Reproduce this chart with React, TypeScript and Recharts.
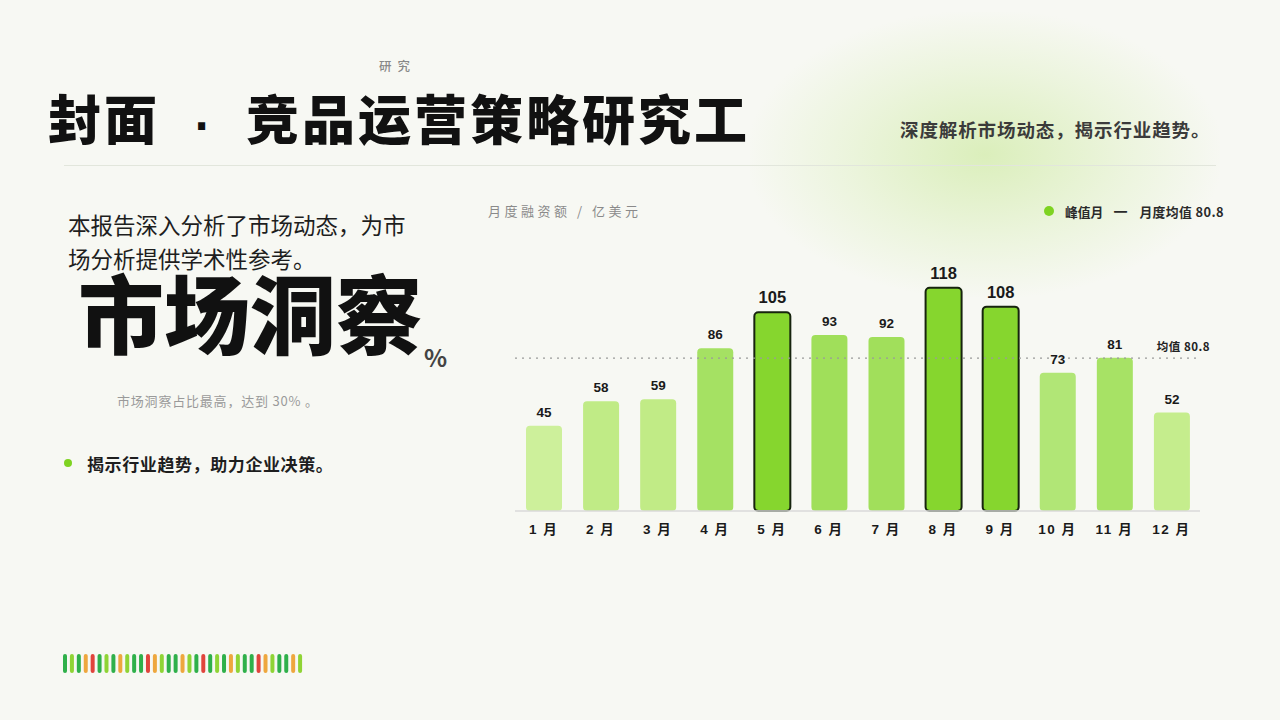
import React from "react";
import { BarChart, Bar, XAxis, YAxis, Cell, LabelList, ReferenceLine } from "recharts";

const MONTHS = ["1 月", "2 月", "3 月", "4 月", "5 月", "6 月", "7 月", "8 月", "9 月", "10 月", "11 月", "12 月"];
const FUNDING = [45, 58, 59, 86, 105, 93, 92, 118, 108, 73, 81, 52];
const PEAK_MONTHS = ["5 月", "8 月", "9 月"];
const BAR_COLORS = ["#cdf09b", "#c0eb86", "#c1eb86", "#a5e163", "#86d62e", "#a0df5a", "#a1df5b", "#86d62e", "#86d62e", "#b1e676", "#a7e265", "#c5ed8d"];
const MEAN = 80.8;

// decorative stripe strip, g = dark green, l = light green, o = orange, r = red
const STRIPES = "glgorglgolggrolggolgrglgolggrolggol".split("");
const STRIPE_COLORS: Record<string, string> = { g: "#2fb04a", l: "#8fd435", o: "#eea73e", r: "#e0443c" };

const chartData = MONTHS.map((m, i) => ({ month: m, value: FUNDING[i], color: BAR_COLORS[i], peak: PEAK_MONTHS.includes(m) }));
const stripeData = STRIPES.map((k, i) => ({ id: i, v: 1, color: STRIPE_COLORS[k] }));

const CJK = '"Noto Sans CJK SC", "Noto Sans", sans-serif';
const NUM = '"Liberation Sans", "Noto Sans CJK SC", sans-serif';

function ValueLabel(props: any) {
  const { x, y, width, value, index } = props;
  const peak = chartData[index].peak;
  return (
    <text x={x + width / 2} y={y - 9} textAnchor="middle" fontFamily={NUM} fontWeight={700} fontSize={peak ? 16.5 : 13.5} fill="#1a1a1a">
      {value}
    </text>
  );
}

function MeanLabel(props: any) {
  const { viewBox } = props;
  return (
    <text x={viewBox.x + viewBox.width + 10} y={viewBox.y - 7} textAnchor="end" fontFamily={CJK} fontWeight={700} fontSize={11.5} fill="#222" letterSpacing={0.5}>
      均值 80.8
    </text>
  );
}

export default function App() {
  return (
    <div style={{ position: "absolute", left: 0, top: 0, width: 1280, height: 720, overflow: "hidden", background: "#f7f8f3", fontFamily: CJK }}>
      <div style={{ position: "absolute", left: 750, top: 12, width: 470, height: 285, background: "radial-gradient(ellipse at center, rgba(200,232,150,0.6) 0%, rgba(215,238,180,0.35) 42%, rgba(247,248,243,0) 72%)" }} />

      <div style={{ position: "absolute", left: 379, top: 56, fontSize: 12.5, color: "#888", letterSpacing: 6, fontWeight: 500 }}>研究</div>
      <div style={{ position: "absolute", left: 48, top: 80, fontSize: 53, fontWeight: 900, color: "#111", letterSpacing: 3, whiteSpace: "nowrap", lineHeight: 1.4 }}>
        封面<span style={{ display: "inline-block", width: 86, textAlign: "center", fontFamily: '"DejaVu Sans", sans-serif', fontWeight: 700, fontSize: 40 }}>·</span>竞品运营策略研究工
      </div>
      <div style={{ position: "absolute", left: 900, top: 116, fontSize: 18.5, fontWeight: 700, color: "#3b3b3b", letterSpacing: 0.9, whiteSpace: "nowrap" }}>
        深度解析市场动态，揭示行业趋势。
      </div>
      <div style={{ position: "absolute", left: 64, top: 165, width: 1152, height: 1, background: "#e2e6dc" }} />

      <div style={{ position: "absolute", left: 68, top: 207, width: 345, fontSize: 22.5, lineHeight: "34px", color: "#1e1e1e" }}>
        本报告深入分析了市场动态，为市场分析提供学术性参考。
      </div>
      <div style={{ position: "absolute", left: 78, top: 259, fontSize: 86, fontWeight: 900, color: "#111", lineHeight: 1.2, whiteSpace: "nowrap" }}>
        市场洞察
      </div>
      <div style={{ position: "absolute", left: 424, top: 339, fontSize: 24, fontWeight: 600, color: "#444" }}>%</div>
      <div style={{ position: "absolute", left: 117, top: 391, fontSize: 13, color: "#9a9a9a", letterSpacing: 0.8, whiteSpace: "nowrap" }}>市场洞察占比最高，达到 30% 。</div>

      <div style={{ position: "absolute", left: 64, top: 459, width: 8, height: 8, borderRadius: 4, background: "#7ed321" }} />
      <div style={{ position: "absolute", left: 87, top: 451, fontSize: 17, fontWeight: 700, color: "#1e1e1e", letterSpacing: 0.6, whiteSpace: "nowrap" }}>揭示行业趋势，助力企业决策。</div>

      <div style={{ position: "absolute", left: 488, top: 201, fontSize: 13, color: "#8a8a8a", letterSpacing: 3.5, whiteSpace: "nowrap" }}>
        月度融资额 / 亿美元
      </div>
      <div style={{ position: "absolute", left: 1044, top: 201, display: "flex", alignItems: "center", fontSize: 12.8, fontWeight: 700, color: "#2a2a2a", whiteSpace: "nowrap" }}>
        <span style={{ width: 10, height: 10, borderRadius: 5, background: "#7ed321", display: "inline-block", marginRight: 11 }} />
        <span>峰值月</span>
        <span style={{ margin: "0 12px 0 10px", fontSize: 14 }}>一</span>
        <span style={{ letterSpacing: 0.4 }}>月度均值 80.8</span>
      </div>

      <div style={{ position: "absolute", left: 500, top: 250 }}>
        <BarChart width={720} height={300} data={chartData} margin={{ top: 15, right: 20, left: 15, bottom: 9 }}>
          <YAxis hide domain={[0, 130]} />
          <XAxis
            dataKey="month"
            height={30}
            tickLine={false}
            tickMargin={7}
            axisLine={{ stroke: "#dadada", strokeWidth: 1.5 }}
            tick={{ fontFamily: NUM, fontWeight: 700, fontSize: 13.5, fill: "#1a1a1a", letterSpacing: 1.5 }}
            interval={0}
          />
          <ReferenceLine y={MEAN} stroke="#9a9a9a" strokeWidth={1.2} strokeDasharray="2 5" label={<MeanLabel />} />
          <Bar dataKey="value" barSize={36} radius={[4, 4, 4, 4]} isAnimationActive={false}>
            {chartData.map((d, i) => (
              <Cell key={i} fill={d.color} stroke={d.peak ? "#17240e" : "none"} strokeWidth={d.peak ? 2 : 0} />
            ))}
            <LabelList dataKey="value" content={<ValueLabel />} />
          </Bar>
        </BarChart>
      </div>

      <div style={{ position: "absolute", left: 62, top: 654 }}>
        <BarChart width={242} height={19} data={stripeData} margin={{ top: 0, right: 0, left: 0, bottom: 0 }} barCategoryGap={0}>
          <XAxis dataKey="id" hide />
          <YAxis hide domain={[0, 1]} />
          <Bar dataKey="v" barSize={4} radius={2} isAnimationActive={false}>
            {stripeData.map((d, i) => (
              <Cell key={i} fill={d.color} />
            ))}
          </Bar>
        </BarChart>
      </div>
    </div>
  );
}
